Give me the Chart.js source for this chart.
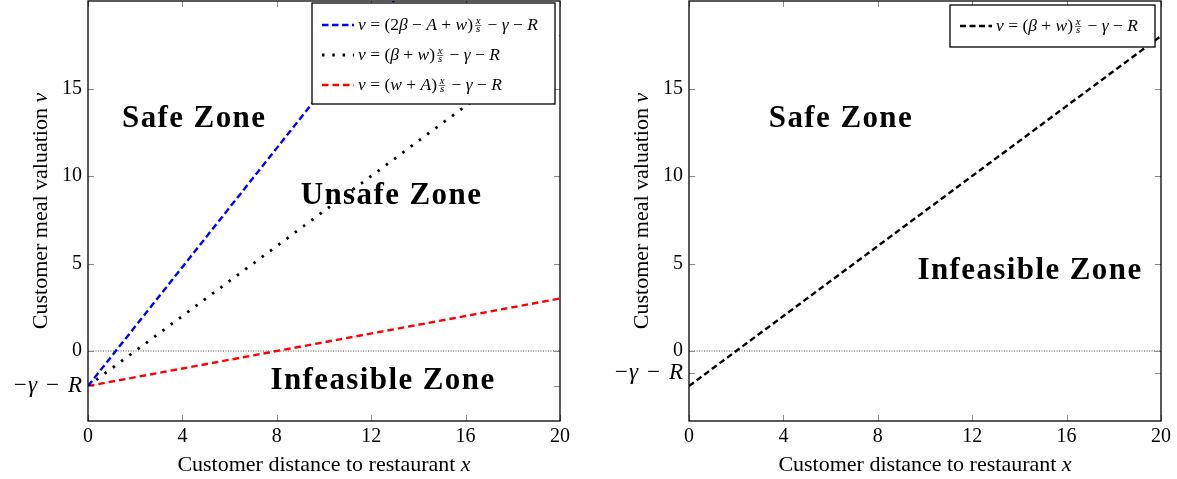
<!DOCTYPE html>
<html>
<head>
<meta charset="utf-8">
<script src="https://cdn.jsdelivr.net/npm/chart.js@4.4.0/dist/chart.umd.min.js"></script>
<style>
    html, body { margin: 0; padding: 0; background: #fff; }
    #wrap { position: relative; width: 1177px; height: 479px; }
    .box { position: absolute; top: 0; height: 479px; }
</style>
</head>
<body>
<div id="wrap">
    <div class="box" style="left:0;width:588px"><canvas id="leftChart"></canvas></div>
    <div class="box" style="left:588px;width:589px"><canvas id="rightChart"></canvas></div>
</div>

<script>
// =========================
// DATA
// =========================
const xVals = [0, 20];
const leftBlue = [-2, 32];
const leftBlack = [-2, 18];
const leftRed = [-2, 3];
const rightBlack = [-2, 18];
const zeroRef = [0, 0];

const xTicks = [0, 4, 8, 12, 16, 20];
const leftYTicks = [-2, 0, 5, 10, 15];
const rightYTicks = [-1.25, 0, 5, 10, 15];
const yTickText = ["−γ\u2004−\u2004R", "0", "5", "10", "15"];

const leftLegend = [
    "$v = (2β − A + w)[x/s] − γ − R$",
    "$v = (β + w)[x/s] − γ − R$",
    "$v = (w + A)[x/s] − γ − R$"
];
const rightLegend = ["$v = (β + w)[x/s] − γ − R$"];

const leftZones = ["Safe Zone", "Unsafe Zone", "Infeasible Zone"];
const leftZoneX = [4.5, 12.86, 12.5];
const leftZoneY = [13.26, 8.86, -1.71];
const rightZones = ["Safe Zone", "Infeasible Zone"];
const rightZoneX = [6.44, 14.45];
const rightZoneY = [13.26, 4.57];

const xTitle = "Customer distance to restaurant $x$";
const yTitle = "Customer meal valuation $v$";

const FONT = "Liberation Serif";

// =========================
// RICH TEXT (simple math)
// =========================
function parseRich(str) {
    const out = [];
    const pushMath = s => {
        for (const ch of s) out.push({ t: ch, it: /[A-Za-z\u03b1-\u03c9]/.test(ch) });
    };
    str.split("$").forEach((p, i) => {
        if (i % 2 === 0) { if (p) out.push({ t: p, it: false }); return; }
        const re = /\[([^\/\]]+)\/([^\]]+)\]/g;
        let last = 0, m;
        while ((m = re.exec(p))) {
            pushMath(p.slice(last, m.index));
            out.push({ frac: true, num: m[1], den: m[2] });
            last = re.lastIndex;
        }
        pushMath(p.slice(last));
    });
    return out;
}

function fontStr(size, it, bold) {
    return `${it ? "italic " : ""}${bold ? "bold " : ""}${size}px "${FONT}"`;
}

function tokWidth(ctx, k, size) {
    if (k.frac) {
        ctx.font = fontStr(size * 0.62, true);
        return Math.max(ctx.measureText(k.num).width, ctx.measureText(k.den).width) + size * 0.3;
    }
    ctx.font = fontStr(size, k.it);
    return ctx.measureText(k.t).width;
}

function drawRich(ctx, str, x, y, size, align) {
    const toks = parseRich(str);
    const w = toks.reduce((s, k) => s + tokWidth(ctx, k, size), 0);
    let px = align === "center" ? x - w / 2 : x;
    ctx.textAlign = "left";
    ctx.textBaseline = "alphabetic";
    ctx.fillStyle = "#000";
    toks.forEach(k => {
        const kw = tokWidth(ctx, k, size);
        if (k.frac) {
            const fs = size * 0.62;
            const cx = px + kw / 2;
            const bar = y - size * 0.27;
            ctx.font = fontStr(fs, true);
            ctx.textAlign = "center";
            ctx.fillText(k.num, cx, bar - size * 0.07);
            ctx.fillText(k.den, cx, bar + size * 0.07 + fs * 0.48);
            ctx.textAlign = "left";
            ctx.strokeStyle = "#000";
            ctx.lineWidth = 0.6;
            ctx.beginPath();
            ctx.moveTo(px + size * 0.1, bar);
            ctx.lineTo(px + kw - size * 0.1, bar);
            ctx.stroke();
        } else {
            ctx.font = fontStr(size, k.it);
            ctx.fillText(k.t, px, y);
        }
        px += kw;
    });
}

// =========================
// PLUGIN: frame, inner ticks, zones, legend, titles
// =========================
const paperPlugin = {
    id: "paper",
    beforeDatasetsDraw(chart, args, opts) {
        const { ctx, scales: { x, y } } = chart;
        ctx.save();
        ctx.fillStyle = "#000";
        ctx.font = fontStr(opts.zoneSize, false, true);
        ctx.letterSpacing = opts.zoneSpacing + "px";
        ctx.textAlign = "center";
        ctx.textBaseline = "middle";
        opts.zones.forEach((z, i) => {
            ctx.fillText(z, x.getPixelForValue(opts.zoneX[i]), y.getPixelForValue(opts.zoneY[i]));
        });
        ctx.restore();
    },
    afterDatasetsDraw(chart, args, opts) {
        const { ctx, chartArea: a, scales: { x, y } } = chart;
        ctx.save();

        // inner tick marks
        ctx.strokeStyle = "#8c8c8c";
        ctx.lineWidth = 1;
        ctx.beginPath();
        x.ticks.forEach(t => {
            const px = Math.round(x.getPixelForValue(t.value)) + 0.5;
            ctx.moveTo(px, a.bottom); ctx.lineTo(px, a.bottom - 6);
            ctx.moveTo(px, a.top); ctx.lineTo(px, a.top + 6);
        });
        y.ticks.forEach(t => {
            const py = Math.round(y.getPixelForValue(t.value)) + 0.5;
            ctx.moveTo(a.left, py); ctx.lineTo(a.left + 6, py);
            ctx.moveTo(a.right, py); ctx.lineTo(a.right - 6, py);
        });
        ctx.stroke();

        // frame
        ctx.strokeStyle = "#000";
        ctx.lineWidth = 1.3;
        ctx.strokeRect(a.left, a.top, a.width, a.height);

        // legend box
        const L = opts.legend;
        const bx = a.right - L.rightGap - L.width;
        const by = a.top + L.topGap;
        ctx.fillStyle = "#fff";
        ctx.fillRect(bx, by, L.width, L.height);
        ctx.strokeStyle = "#000";
        ctx.lineWidth = 1.3;
        ctx.strokeRect(bx, by, L.width, L.height);
        const sets = chart.data.datasets.filter(d => d.legendText);
        sets.forEach((d, i) => {
            const cy = by + L.firstRow + i * L.rowGap;
            ctx.save();
            ctx.strokeStyle = d.borderColor;
            ctx.lineWidth = d.borderWidth;
            ctx.setLineDash(d.borderDash || []);
            ctx.beginPath();
            ctx.moveTo(bx + 10, cy);
            ctx.lineTo(bx + 42, cy);
            ctx.stroke();
            ctx.restore();
            drawRich(ctx, d.legendText, bx + 46, cy + L.size * 0.3, L.size, "left");
        });

        // axis titles
        drawRich(ctx, xTitle, (a.left + a.right) / 2, a.bottom + 50, 22, "center");
        ctx.save();
        ctx.translate(a.left - 41, (a.top + a.bottom) / 2);
        ctx.rotate(-Math.PI / 2);
        drawRich(ctx, yTitle, 0, 0, 22, "center");
        ctx.restore();

        ctx.restore();
    }
};

// =========================
// CHART BUILDER
// =========================
function pts(ys) {
    return xVals.map((v, i) => ({ x: v, y: ys[i] }));
}

function noPad(s) {
    s.paddingTop = 0;
    s.paddingBottom = 0;
    s.paddingLeft = 0;
    s.paddingRight = 0;
}

function makeChart(id, datasets, yTicks, yWidth, rightPad, zones, zoneX, zoneY, legendBox) {
    return new Chart(document.getElementById(id), {
        type: "line",
        data: { datasets: datasets },
        options: {
            responsive: true,
            maintainAspectRatio: false,
            animation: false,
            layout: { padding: { top: 1, right: rightPad, left: 0, bottom: 0 } },
            elements: { point: { radius: 0 }, line: { tension: 0, fill: false } },
            scales: {
                x: {
                    type: "linear",
                    min: 0,
                    max: 20,
                    grid: { display: false, drawTicks: false },
                    border: { display: false },
                    afterBuildTicks: s => { s.ticks = xTicks.map(v => ({ value: v })); },
                    afterFit: s => { s.height = 58; noPad(s); },
                    ticks: {
                        padding: 4,
                        color: "#000",
                        font: { family: FONT, size: 20 },
                        maxRotation: 0,
                        autoSkip: false
                    }
                },
                y: {
                    type: "linear",
                    min: -4,
                    max: 20,
                    grid: { display: false, drawTicks: false },
                    border: { display: false },
                    afterBuildTicks: s => { s.ticks = yTicks.map(v => ({ value: v })); },
                    afterFit: s => { s.width = yWidth; noPad(s); },
                    ticks: {
                        padding: 6,
                        color: "#000",
                        autoSkip: false,
                        callback: v => yTickText[yTicks.indexOf(v)],
                        font: c => {
                            const sym = c.tick && c.tick.value < 0;
                            return { family: FONT, size: sym ? 23 : 20, style: sym ? "italic" : "normal" };
                        }
                    }
                }
            },
            plugins: {
                legend: { display: false },
                tooltip: { enabled: false },
                paper: {
                    zones: zones,
                    zoneX: zoneX,
                    zoneY: zoneY,
                    zoneSize: 31,
                    zoneSpacing: 1.4,
                    legend: legendBox
                }
            }
        },
        plugins: [paperPlugin]
    });
}

const zeroSet = {
    data: pts(zeroRef),
    borderColor: "#555",
    borderWidth: 1,
    borderDash: [1, 1.5]
};

makeChart("leftChart", [
    {
        data: pts(leftBlue),
        borderColor: "#0000ff",
        borderWidth: 2.4,
        borderDash: [6.5, 3.5],
        legendText: leftLegend[0]
    },
    {
        data: pts(leftBlack),
        borderColor: "#000",
        borderWidth: 2.8,
        borderDash: [2.5, 7.8],
        legendText: leftLegend[1]
    },
    {
        data: pts(leftRed),
        borderColor: "#ff0000",
        borderWidth: 2.4,
        borderDash: [6.5, 4],
        legendText: leftLegend[2]
    },
    { ...zeroSet }
], leftYTicks, 88, 28, leftZones, leftZoneX, leftZoneY,
    { width: 243, height: 101, rightGap: 5, topGap: 2, firstRow: 22, rowGap: 30, size: 17.5 });

makeChart("rightChart", [
    {
        data: pts(rightBlack),
        borderColor: "#000",
        borderWidth: 2.4,
        borderDash: [6, 3.5],
        legendText: rightLegend[0]
    },
    { ...zeroSet }
], rightYTicks, 101, 16, rightZones, rightZoneX, rightZoneY,
    { width: 205, height: 42, rightGap: 6, topGap: 4, firstRow: 21, rowGap: 30, size: 17.5 });
</script>
</body>
</html>
